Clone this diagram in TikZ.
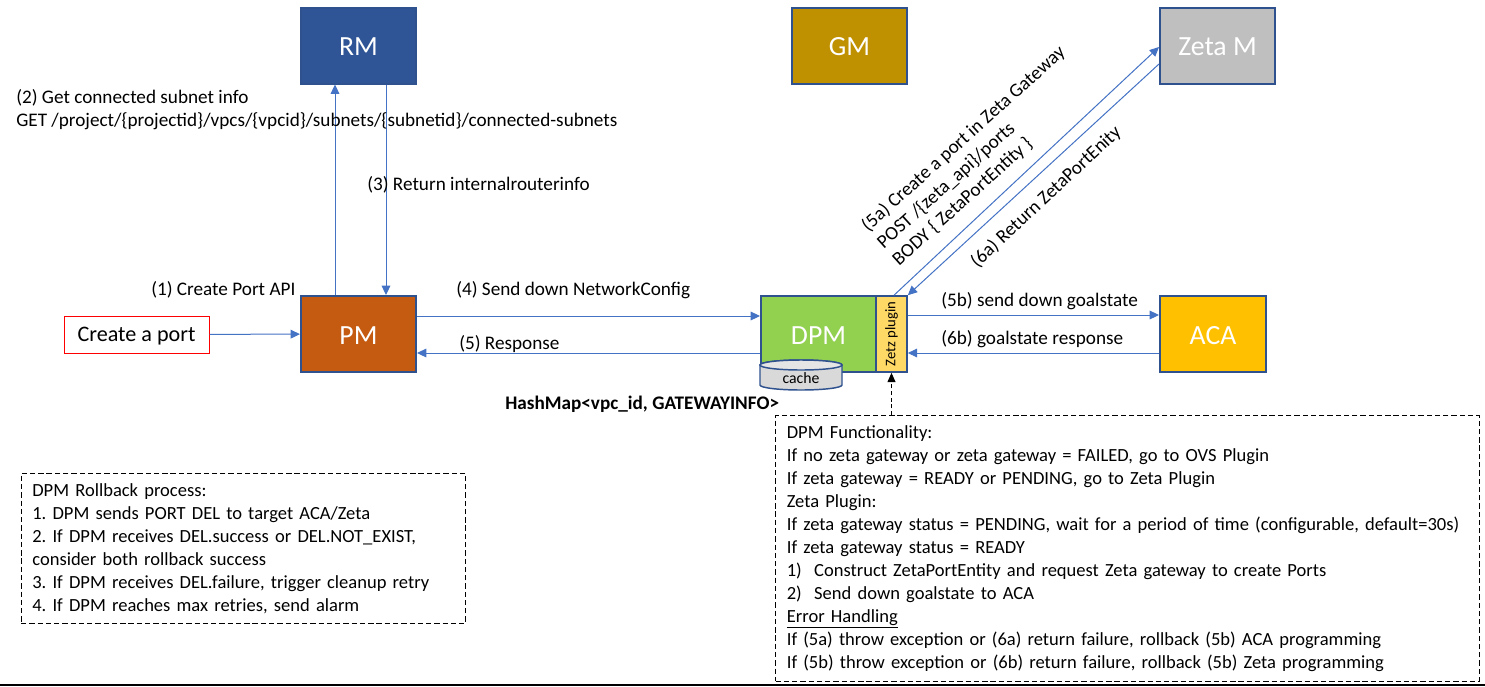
\documentclass[tikz,border=0pt]{standalone}
\usepackage{fontspec}
\setmainfont{Carlito}
\usetikzlibrary{arrows.meta}
\def\px{0.75pt}
\tikzset{
  x=0.75pt,y=-0.75pt,
  blockbox/.style={draw=bordblue,line width=1.5pt,text=white,inner sep=0pt,text height=15.2pt,text depth=0pt,font=\fontsize{20.8}{22}\selectfont},
  link/.style={draw=linkblue,line width=0.75pt,-{Triangle[length=7pt,width=6.5pt]}},
  lbl/.style={inner sep=0pt,font=\fontsize{14.4}{17.25}\selectfont,text=black,align=left},
  notebox/.style={draw=black,line width=0.75pt,dash pattern=on 4pt off 2.2pt,inner xsep=8.5pt,inner ysep=7.4pt,anchor=north west,align=left,font=\fontsize{13.9}{17.25}\selectfont}
}
\definecolor{bordblue}{HTML}{2F528F}
\definecolor{linkblue}{HTML}{4472C4}
\definecolor{rmc}{HTML}{2F5597}
\definecolor{gmc}{HTML}{BF9000}
\definecolor{zetac}{HTML}{BFBFBF}
\definecolor{pmc}{HTML}{C55A11}
\definecolor{dpmc}{HTML}{92D050}
\definecolor{plugc}{HTML}{FFD966}
\definecolor{acac}{HTML}{FFC000}
\begin{document}
\frenchspacing
\begin{tikzpicture}
\useasboundingbox (0,0) rectangle (1485,686);
\fill[white] (0,0) rectangle (1485,686);
\draw[black,line width=1pt] (0,685) -- (1485,685);
% blocks
\node[blockbox,fill=rmc,minimum width=115*\px,minimum height=76*\px] (rm) at (358.5,45.5) {RM};
\node[blockbox,fill=gmc,minimum width=115*\px,minimum height=76*\px] (gm) at (849.5,45.5) {GM};
\node[blockbox,fill=zetac,minimum width=115*\px,minimum height=76*\px] (zeta) at (1217.5,45.5) {Zeta M};
\node[blockbox,fill=pmc,minimum width=115*\px,minimum height=76*\px] (pm) at (358.5,334) {PM};
\node[blockbox,fill=dpmc,minimum width=115*\px,minimum height=76*\px] (dpm) at (818.5,334) {DPM};
\node[draw=bordblue,line width=1.2pt,fill=plugc,minimum width=31*\px,minimum height=76*\px,inner sep=0pt] (plug) at (891.5,334) {};
\node[rotate=90,inner sep=0pt,font=\fontsize{11}{12}\selectfont] (plugtxt) at (plug.center) {Zetz plugin};
\node[blockbox,fill=acac,minimum width=106*\px,minimum height=76*\px] (aca) at (1213,334) {ACA};
\node[draw=red,line width=0.75pt,minimum width=145*\px,minimum height=37*\px,inner sep=0pt,text depth=0pt,font=\fontsize{16.6}{18}\selectfont] (create) at (136.5,334.5) {Create a port};
% cache cylinder
\draw[draw=bordblue,line width=1.1pt,fill=black!15] (760,365) -- (760,385) arc[start angle=180,end angle=360,x radius=30.75pt,y radius=3.75pt] -- (842,365) arc[start angle=0,end angle=180,x radius=30.75pt,y radius=3.75pt] -- cycle;
\draw[draw=bordblue,line width=1.1pt,fill=black!10] (801,365) ellipse[x radius=30.75pt,y radius=3.75pt];
\node[inner sep=0pt,font=\fontsize{11.8}{13}\selectfont] (cachetxt) at (801,378.5) {cache};
% connectors
\draw[link] (create) -- (pm);
\draw[link] ([xshift=-23.5*\px]pm.north) -- ([xshift=-23.5*\px]rm.south);
\draw[link] ([xshift=27.5*\px]rm.south) -- ([xshift=27.5*\px]pm.north);
\draw[link] ([yshift=18*\px]pm.east) -- ([yshift=18*\px]dpm.west);
\draw[link] ([yshift=-19*\px]dpm.west) -- ([yshift=-19*\px]pm.east);
\draw[link] ([yshift=19*\px]plug.east) -- ([yshift=19*\px]aca.west);
\draw[link] ([yshift=-19*\px]aca.west) -- ([yshift=-19*\px]plug.east);
\draw[link] ([xshift=2.5*\px]plug.north) -- ([yshift=-1.5*\px]zeta.west);
\draw[link] ([yshift=-18.5*\px]zeta.west) -- (plug.north east);
% labels
\node[lbl,anchor=west] (l2) at (16,110) {(2) Get connected subnet info\\GET /project/\{projectid\}/vpcs/\{vpcid\}/subnets/\{subnetid\}/connected-subnets};
\node[lbl,anchor=west] (l3) at (367,185) {(3) Return internalrouterinfo};
\node[lbl,anchor=west] (l1) at (151,290) {(1) Create Port API};
\node[lbl,anchor=west] (l4) at (456,290) {(4) Send down NetworkConfig};
\node[lbl,anchor=west] (l5) at (459,344) {(5) Response};
\node[lbl,anchor=west] (l5b) at (941,301) {(5b) send down goalstate};
\node[lbl,anchor=west] (l6b) at (941,339) {(6b) goalstate response};
\node[lbl,anchor=center,rotate=43] (l6a) at (1046,197) {(6a) Return ZetaPortEnity};
\node[lbl,rotate=42,anchor=center] (l5a) at (979,156) {(5a) Create a port in Zeta Gateway\\POST /\{zeta\_api\}/ports\\BODY \{ ZetaPortEntity \}};
\node[lbl,anchor=west,font=\fontsize{14.4}{16}\selectfont\bfseries] (hash) at (505,404) {HashMap<vpc\_id, GATEWAYINFO>};
% notes
\node[notebox,text width=422*\px] (roll) at (20.5,473) {DPM Rollback process:\\
1. DPM sends PORT DEL to target ACA/Zeta\\
2. If DPM receives DEL.success or DEL.NOT\_EXIST,\\
consider both rollback success\\
3. If DPM receives DEL.failure, trigger cleanup retry\\
4. If DPM reaches max retries, send alarm};
\node[notebox,text width=681*\px] (func) at (775,415) {DPM Functionality:\\
If no zeta gateway or zeta gateway = FAILED, go to OVS Plugin\\
If zeta gateway = READY or PENDING, go to Zeta Plugin\\
Zeta Plugin:\\
If zeta gateway status = PENDING, wait for a period of time (configurable, default=30s)\\
If zeta gateway status = READY\\
1)\ \ Construct ZetaPortEntity and request Zeta gateway to create Ports\\
2)\ \ Send down goalstate to ACA\\
\underline{Error Handling}\\
If (5a) throw exception or (6a) return failure, rollback (5b) ACA programming\\
If (5b) throw exception or (6b) return failure, rollback (5b) Zeta programming};
\draw[black,line width=0.75pt,dash pattern=on 3pt off 2pt,-{Triangle[length=7pt,width=6pt]}] (func.north -| plug.south) -- (plug.south);
\end{tikzpicture}
\end{document}
